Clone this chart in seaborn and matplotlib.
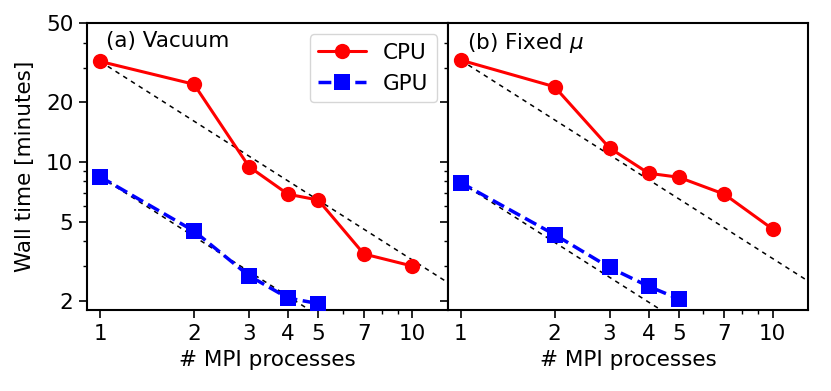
import matplotlib
matplotlib.use("Agg")
import matplotlib.pyplot as plt
from matplotlib.ticker import FixedLocator, FixedFormatter, NullFormatter
import pandas as pd
import seaborn as sns

procs_cpu = [1, 2, 3, 4, 5, 7, 10]
procs_gpu = [1, 2, 3, 4, 5]

vac_cpu = [32.2, 24.7, 9.5, 6.9, 6.45, 3.45, 3.0]
vac_gpu = [8.45, 4.5, 2.68, 2.07, 1.94]

fix_cpu = [32.7, 24.0, 11.8, 8.8, 8.4, 6.9, 4.6]
fix_gpu = [7.9, 4.32, 2.95, 2.37, 2.05]

panel_titles = ["(a) Vacuum", r"(b) Fixed $\mu$"]
xticks = [1, 2, 3, 4, 5, 7, 10]
yticks = [2, 5, 10, 20, 50]

sns.set_style("ticks")
plt.rcParams['font.family'] = ['DejaVu Sans']
plt.rcParams['font.size'] = 15.5
for key in ['text.color', 'axes.labelcolor', 'xtick.color', 'ytick.color', 'axes.edgecolor']:
    plt.rcParams[key] = 'black'

fig, axes = plt.subplots(1, 2, figsize=(8.31, 3.91), dpi=100, sharey=True)
plt.subplots_adjust(left=0.105, right=0.9727, top=0.940, bottom=0.207, wspace=0)

panels = [(vac_cpu, vac_gpu), (fix_cpu, fix_gpu)]

for i, (ax, (cpu, gpu)) in enumerate(zip(axes, panels)):
    # ideal scaling from the single-process time
    for t1 in [cpu[0], gpu[0]]:
        ideal = pd.DataFrame({"n": [1, 13], "t": [t1 / 1, t1 / 13]})
        sns.lineplot(data=ideal, x="n", y="t", ax=ax, color="black",
                     linewidth=1.1, dashes=False, zorder=1)
        ax.lines[-1].set_dashes((3, 3))

    cpuDF = pd.DataFrame({"n": procs_cpu, "t": cpu})
    gpuDF = pd.DataFrame({"n": procs_gpu, "t": gpu})
    sns.lineplot(data=cpuDF, x="n", y="t", ax=ax, color="red", linewidth=2.2,
                 marker="o", markersize=11, markeredgewidth=0, label="CPU", zorder=3)
    sns.lineplot(data=gpuDF, x="n", y="t", ax=ax, color="blue", linewidth=2.5,
                 marker="s", markersize=11, markeredgewidth=0, label="GPU", zorder=3)
    ax.lines[-1].set_dashes((3.7, 1.6))

    ax.set_xscale("log")
    ax.set_yscale("log")
    ax.set_xlim(0.91, 13)
    ax.set_ylim(1.8, 50)

    ax.xaxis.set_major_locator(FixedLocator(xticks))
    ax.xaxis.set_major_formatter(FixedFormatter([str(t) for t in xticks]))
    ax.xaxis.set_minor_locator(FixedLocator([6, 8, 9]))
    ax.xaxis.set_minor_formatter(NullFormatter())
    ax.yaxis.set_major_locator(FixedLocator(yticks))
    ax.yaxis.set_major_formatter(FixedFormatter([str(t) for t in yticks]))
    ax.yaxis.set_minor_locator(FixedLocator([3, 4, 6, 7, 8, 9, 30, 40]))
    ax.yaxis.set_minor_formatter(NullFormatter())

    ax.tick_params(which="both", direction="out", left=True, bottom=True,
                   right=False, top=False)
    ax.tick_params(which="major", length=5.5, width=1.2, pad=4.5, labelsize=15.5)
    ax.tick_params(which="minor", length=3, width=1)
    for sp in ax.spines.values():
        sp.set_linewidth(1.5)

    ax.set_xlabel("# MPI processes", fontsize=15.5)
    ax.set_ylabel("Wall time [minutes]" if i == 0 else "", fontsize=15.5, labelpad=8)
    ax.text(0.052, 0.975, panel_titles[i], transform=ax.transAxes, va="top", ha="left",
            fontsize=15.5)

    if i == 0:
        ax.legend(loc="upper right", fontsize=15.5, handlelength=2.2)
    else:
        ax.get_legend().remove()

axes[1].tick_params(axis="y", which="both", labelleft=False)

plt.savefig("out.png", dpi=100)
